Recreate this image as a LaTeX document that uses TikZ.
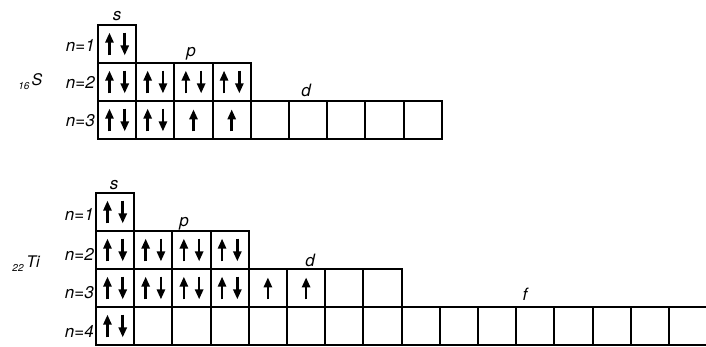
\documentclass[tikz,border=0pt]{standalone}
\usepackage{fontspec}
\setmainfont{TeX Gyre Heros}
\usetikzlibrary{arrows.meta}

\tikzset{
  cell/.style={draw, line width=1.9pt},
  spin/.style={line width=2.6pt, -{Triangle[width=8pt,length=10pt]}},
  lbl/.style={font=\fontsize{17}{17}\selectfont\itshape, inner sep=0pt},
  elem/.style={font=\fontsize{16}{16}\selectfont\itshape, inner sep=0pt},
  zlbl/.style={font=\fontsize{10}{10}\selectfont\itshape, inner sep=0pt},
}
% one pair of opposite spins / one spin in cell (col,row)
\newcommand{\spinpair}[2]{%
  \draw[spin] (#1+0.3,#2+0.8) -- (#1+0.3,#2+0.2);
  \draw[spin] (#1+0.7,#2+0.2) -- (#1+0.7,#2+0.8);}
\newcommand{\spinup}[2]{%
  \draw[spin] (#1+0.5,#2+0.8) -- (#1+0.5,#2+0.22);}

\begin{document}
\begin{tikzpicture}[x=1pt, y=-1pt]
  \useasboundingbox (0,0) rectangle (706,347);

  % Sulfur
  \begin{scope}[shift={(98,25)}, x=38.2pt, y=-38pt]
    \foreach \r/\n in {0/1, 1/4, 2/9}
      \foreach \c in {1,...,\n}
        \draw[cell] (\c-1,\r) rectangle +(1,1);
    \spinpair{0}{0}
    \foreach \c in {0,...,3} {\spinpair{\c}{1}}
    \spinpair{0}{2} \spinpair{1}{2}
    \spinup{2}{2} \spinup{3}{2}
  \end{scope}

  \node[lbl, anchor=base] (sS) at (117,21) {s};
  \node[lbl, anchor=base] (sP) at (191,57) {p};
  \node[lbl, anchor=base] (sD) at (306,97) {d};
  \node[lbl, anchor=east] (sN1) at (95,45) {n=1};
  \node[lbl, anchor=east] (sN2) at (95,82) {n=2};
  \node[lbl, anchor=east] (sN3) at (95,121) {n=3};
  \node[zlbl] (sZ) at (24,86) {16};
  \node[elem] (sEl) at (37,80) {S};

  % Titanium
  \begin{scope}[shift={(96,193)}, x=38.2pt, y=-38pt]
    \foreach \r/\n in {0/1, 1/4, 2/8, 3/16}
      \foreach \c in {1,...,\n}
        \draw[cell] (\c-1,\r) rectangle +(1,1);
    \spinpair{0}{0}
    \foreach \c in {0,...,3} {\spinpair{\c}{1}}
    \foreach \c in {0,...,3} {\spinpair{\c}{2}}
    \spinup{4}{2} \spinup{5}{2}
    \spinpair{0}{3}
  \end{scope}

  \node[lbl, anchor=base] (tS) at (114,190) {s};
  \node[lbl, anchor=base] (tP) at (184,227) {p};
  \node[lbl, anchor=base] (tD) at (310,266) {d};
  \node[lbl, anchor=base] (tF) at (525,300) {f};
  \node[lbl, anchor=east] (tN1) at (94,214) {n=1};
  \node[lbl, anchor=east] (tN2) at (94,254) {n=2};
  \node[lbl, anchor=east] (tN3) at (94,293) {n=3};
  \node[lbl, anchor=east] (tN4) at (94,331) {n=4};
  \node[zlbl] (tZ) at (18,268) {22};
  \node[elem] (tEl) at (33,262) {Ti};
\end{tikzpicture}
\end{document}
